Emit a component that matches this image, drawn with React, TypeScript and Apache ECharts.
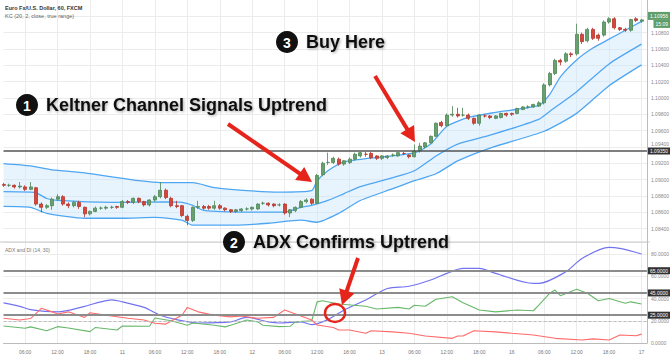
import React, { useEffect, useRef } from 'react';
import * as echarts from 'echarts';

// ---------- categories (hourly candles, weekend skipped) ----------
const tradingDays = ['10', '11', '12', '13', '16'];
const lastDay = '17';
const categories: string[] = [];
tradingDays.forEach((d, di) => {
  for (let h = 0; h < 24; h++) {
    if (di === 0 && h < 2) continue;
    categories.push(`${d}|${h}`);
  }
});
categories.push(`${lastDay}|0`, `${lastDay}|1`);

// ---------- candles ----------
const opens = [
  1.0894, 1.0893, 1.0893, 1.0891, 1.0891, 1.0888, 1.0890, 1.0870, 1.0866, 1.0868,
  1.0876, 1.0879, 1.0870, 1.0868, 1.0872, 1.0866, 1.0858, 1.0861, 1.0865, 1.0865,
  1.0866, 1.0867, 1.0866, 1.0873, 1.0872, 1.0877, 1.0873, 1.0869, 1.0875, 1.0879,
  1.0887, 1.0877, 1.0868, 1.0868, 1.0855, 1.0850, 1.0866, 1.0867, 1.0867, 1.0865,
  1.0868, 1.0865, 1.0863, 1.0861, 1.0862, 1.0864, 1.0864, 1.0864, 1.0871, 1.0871,
  1.0870, 1.0869, 1.0870, 1.0859, 1.0862, 1.0866, 1.0873, 1.0876, 1.0871, 1.0906,
  1.0921, 1.0921, 1.0925, 1.0919, 1.0921, 1.0925, 1.0929, 1.0931, 1.0932, 1.0929,
  1.0926, 1.0927, 1.0930, 1.0929, 1.0932, 1.0930, 1.0928, 1.0935, 1.0940, 1.0945,
  1.0953, 1.0970, 1.0966, 1.0979, 1.0980, 1.0979, 1.0979, 1.0975, 1.0969, 1.0978,
  1.0978, 1.0975, 1.0976, 1.0981, 1.0981, 1.0981, 1.0986, 1.0989, 1.0989, 1.0990,
  1.0994, 1.1016, 1.1030, 1.1046, 1.1045, 1.1054, 1.1054, 1.1078, 1.1070, 1.1084,
  1.1077, 1.1077, 1.1093, 1.1097, 1.1086, 1.1084, 1.1083, 1.1097, 1.1094,
];
const closes = [
  1.0893, 1.0893, 1.0891, 1.0892, 1.0888, 1.0891, 1.0870, 1.0866, 1.0868, 1.0876,
  1.0879, 1.0870, 1.0868, 1.0872, 1.0867, 1.0858, 1.0861, 1.0865, 1.0865, 1.0866,
  1.0866, 1.0866, 1.0873, 1.0872, 1.0877, 1.0873, 1.0869, 1.0875, 1.0879, 1.0887,
  1.0878, 1.0868, 1.0867, 1.0856, 1.0850, 1.0866, 1.0867, 1.0865, 1.0865, 1.0868,
  1.0865, 1.0863, 1.0861, 1.0863, 1.0864, 1.0864, 1.0866, 1.0870, 1.0871, 1.0869,
  1.0868, 1.0869, 1.0859, 1.0863, 1.0866, 1.0873, 1.0875, 1.0871, 1.0905, 1.0920,
  1.0921, 1.0926, 1.0919, 1.0923, 1.0925, 1.0931, 1.0933, 1.0931, 1.0927, 1.0926,
  1.0929, 1.0929, 1.0930, 1.0933, 1.0932, 1.0928, 1.0935, 1.0941, 1.0945, 1.0953,
  1.0969, 1.0966, 1.0979, 1.0980, 1.0978, 1.0979, 1.0975, 1.0969, 1.0979, 1.0978,
  1.0976, 1.0978, 1.0981, 1.0979, 1.0980, 1.0987, 1.0989, 1.0989, 1.0992, 1.0994,
  1.1016, 1.1030, 1.1046, 1.1044, 1.1054, 1.1053, 1.1078, 1.1069, 1.1084, 1.1073,
  1.1073, 1.1093, 1.1097, 1.1086, 1.1084, 1.1083, 1.1096, 1.1095, 1.10956,
];
const lows = [
  1.0891, 1.0891, 1.0889, 1.0889, 1.0886, 1.0887, 1.0868, 1.0860, 1.0864, 1.0863,
  1.0874, 1.0868, 1.0865, 1.0866, 1.0864, 1.0854, 1.0856, 1.0860, 1.0863, 1.0863,
  1.0864, 1.0864, 1.0865, 1.0870, 1.0870, 1.0871, 1.0867, 1.0867, 1.0873, 1.0877,
  1.0876, 1.0866, 1.0865, 1.0854, 1.0844, 1.0848, 1.0864, 1.0863, 1.0863, 1.0863,
  1.0863, 1.0861, 1.0859, 1.0859, 1.0860, 1.0862, 1.0862, 1.0863, 1.0869, 1.0867,
  1.0866, 1.0867, 1.0857, 1.0854, 1.0860, 1.0865, 1.0871, 1.0869, 1.0870, 1.0904,
  1.0918, 1.0919, 1.0917, 1.0917, 1.0919, 1.0923, 1.0927, 1.0928, 1.0925, 1.0924,
  1.0924, 1.0925, 1.0928, 1.0928, 1.0930, 1.0926, 1.0927, 1.0933, 1.0938, 1.0944,
  1.0952, 1.0964, 1.0965, 1.0977, 1.0976, 1.0977, 1.0973, 1.0967, 1.0966, 1.0976,
  1.0974, 1.0974, 1.0975, 1.0977, 1.0978, 1.0980, 1.0985, 1.0987, 1.0988, 1.0989,
  1.0992, 1.1014, 1.1028, 1.1040, 1.1043, 1.1050, 1.1052, 1.1066, 1.1068, 1.1071,
  1.1070, 1.1075, 1.1091, 1.1084, 1.1082, 1.1081, 1.1081, 1.1093, 1.1092,
];
const highs = [
  1.0896, 1.0895, 1.0894, 1.0897, 1.0893, 1.0897, 1.0891, 1.0872, 1.0870, 1.0878,
  1.0882, 1.0881, 1.0872, 1.0874, 1.0874, 1.0867, 1.0862, 1.0867, 1.0867, 1.0868,
  1.0868, 1.0868, 1.0875, 1.0875, 1.0878, 1.0878, 1.0874, 1.0876, 1.0881, 1.0897,
  1.0889, 1.0879, 1.0874, 1.0869, 1.0857, 1.0867, 1.0874, 1.0869, 1.0869, 1.0874,
  1.0870, 1.0866, 1.0864, 1.0864, 1.0865, 1.0866, 1.0867, 1.0871, 1.0873, 1.0872,
  1.0871, 1.0871, 1.0871, 1.0864, 1.0867, 1.0875, 1.0877, 1.0877, 1.0907, 1.0922,
  1.0933, 1.0928, 1.0927, 1.0924, 1.0927, 1.0933, 1.0934, 1.0934, 1.0934, 1.0930,
  1.0930, 1.0930, 1.0932, 1.0934, 1.0934, 1.0931, 1.0943, 1.0945, 1.0946, 1.0954,
  1.0970, 1.0972, 1.0981, 1.0990, 1.0988, 1.0988, 1.0981, 1.0976, 1.0980, 1.0980,
  1.0979, 1.0979, 1.0982, 1.0982, 1.0982, 1.0988, 1.0990, 1.0991, 1.0993, 1.0996,
  1.1018, 1.1032, 1.1048, 1.1048, 1.1056, 1.1056, 1.1091, 1.1080, 1.1086, 1.1086,
  1.1079, 1.1095, 1.1099, 1.1099, 1.1087, 1.1086, 1.1097, 1.1099, 1.1097,
];

// ---------- Keltner channel (candle index, price) ----------
const kcUpper: [number, number][] = [
  [0, 1.09196], [5, 1.09168], [9, 1.0912], [15, 1.09083], [21, 1.09023], [25, 1.08986],
  [29, 1.08962], [35, 1.08962], [39, 1.08902], [45, 1.08865], [51, 1.08847], [57, 1.08865],
  [58, 1.08986], [60, 1.09108], [63, 1.09217], [70, 1.09277], [76, 1.09326], [79, 1.09435],
  [82, 1.09653], [86, 1.09762], [91, 1.09823], [99, 1.09908], [101, 1.10041], [103, 1.10259],
  [106, 1.10465], [109, 1.10611], [112, 1.1072], [115, 1.10829], [118, 1.10938],
];
const kcMiddle: [number, number][] = [
  [0, 1.08853], [5, 1.08847], [6, 1.08841], [8, 1.08768], [10, 1.08744], [20, 1.0872],
  [30, 1.08726], [33, 1.0872], [35, 1.08683], [37, 1.08623], [45, 1.08602], [52, 1.08602],
  [55, 1.08659], [57, 1.08683], [60, 1.08744], [63, 1.08829], [66, 1.08914], [72, 1.09023],
  [76, 1.09108], [80, 1.09289], [84, 1.09435], [90, 1.09544], [99, 1.09738], [101, 1.09835],
  [106, 1.10077], [112, 1.10417], [118, 1.10659],
];
const kcLower: [number, number][] = [
  [0, 1.08671], [5, 1.08659], [8, 1.08586], [15, 1.08526], [22, 1.08526], [28, 1.08538],
  [33, 1.08502], [35, 1.08441], [43, 1.08441], [49, 1.08465], [55, 1.08502], [58, 1.08477],
  [62, 1.08586], [66, 1.08744], [72, 1.08889], [76, 1.08986], [80, 1.09071], [84, 1.09229],
  [90, 1.09386], [100, 1.09592], [106, 1.09811], [112, 1.1015], [118, 1.10405],
];

// ---------- ADX and DI (candle index, value) ----------
const adx: [number, number][] = [
  [0, 36], [3, 33], [5, 30], [10, 28], [15, 33], [18, 37], [20, 38.7], [22, 37], [26, 32],
  [29, 25], [32, 21], [36, 18], [42, 19], [45, 23], [49, 19], [51, 18], [55, 19], [57, 16.5],
  [60, 21], [63, 29.7], [67, 38.7], [71, 49], [75, 51], [79, 56.6], [82, 62.6], [85, 67],
  [88, 67], [91, 62.6], [98, 53.6], [99, 53.6], [104, 64], [107, 76], [112, 86], [114, 85],
  [118, 80],
];
const plusDi: [number, number][] = [
  [0, 15.3], [4, 13.2], [5, 14.5], [8, 11], [10, 14.7], [12, 13.5], [16, 10.2], [17, 14],
  [21, 11.7], [22, 15.3], [27, 15], [28, 22.5], [31, 20], [34, 16], [35, 18], [39, 16],
  [41, 14.5], [42, 16], [45, 20.7], [47, 19], [48, 16], [51, 14.7], [53, 15], [54, 19],
  [57, 20], [58, 37], [59, 38], [62, 35], [67, 33], [69, 30.6], [73, 32], [75, 30.6],
  [76, 34], [78, 33], [80, 39.3], [83, 41.6], [85, 36.2], [88, 29.7], [91, 28], [95, 29.7],
  [98, 29], [99, 34], [101, 44.7], [102, 47.6], [103, 42.5], [106, 48.3], [108, 44.7],
  [110, 38], [112, 40], [115, 35.7], [116, 37], [118, 35],
];
const minusDi: [number, number][] = [
  [0, 22.2], [3, 20.7], [5, 22], [7, 31.2], [9, 28], [10, 26], [12, 28], [15, 23], [16, 27.2],
  [19, 25], [23, 22.2], [26, 20.7], [28, 17.7], [30, 17], [33, 25], [34, 32], [36, 28],
  [39, 25], [42, 23.5], [44, 24.3], [47, 22.2], [50, 23], [52, 29.7], [55, 24.3], [57, 20.7],
  [58, 16.2], [61, 14], [62, 11.7], [64, 11.7], [67, 8.7], [68, 11], [72, 10], [75, 8.7],
  [78, 6.3], [83, 4.2], [84, 6.3], [85, 6.3], [87, 11], [91, 10], [94, 8.7], [98, 7.2],
  [102, 4.2], [107, 2.7], [109, 3.7], [112, 2.7], [114, 7.2], [117, 6.5], [118, 8],
];

// ---------- reference levels ----------
const priceLevel = 1.0935;
const adxLevels = [65, 45, 25];
const adxDashed = 20;
const countdown = '15:09';

const RED = '#e5251c';
const FONT = '"Liberation Sans", Arial, sans-serif';

function arrow(sx: number, sy: number, tx: number, ty: number) {
  const dx = tx - sx, dy = ty - sy;
  const L = Math.hypot(dx, dy);
  const ux = dx / L, uy = dy / L;
  const nx = -uy, ny = ux;
  const hl = 15, hw = 8;
  const bx = tx - ux * hl, by = ty - uy * hl;
  return [
    { type: 'line', z: 100, shape: { x1: sx, y1: sy, x2: bx + ux * 2, y2: by + uy * 2 }, style: { stroke: RED, lineWidth: 4 } },
    { type: 'polygon', z: 100, shape: { points: [[tx, ty], [bx + nx * hw, by + ny * hw], [bx - nx * hw, by - ny * hw]] }, style: { fill: RED } },
  ];
}

function badge(cx: number, cy: number, n: string, label: string) {
  return [
    { type: 'circle', z: 100, shape: { cx, cy, r: 11 }, style: { fill: '#111' } },
    { type: 'text', z: 101, x: cx, y: cy + 0.5, style: { text: n, fill: '#fff', fontSize: 14, fontWeight: 'bold', fontFamily: FONT, align: 'center', verticalAlign: 'middle' } },
    {
      type: 'text', z: 101, x: cx + 19, y: cy,
      style: {
        text: label, fill: '#111', fontSize: 18, fontWeight: 'bold', fontFamily: FONT,
        align: 'left', verticalAlign: 'middle',
        textShadowColor: 'rgba(0,0,0,0.35)', textShadowBlur: 3, textShadowOffsetX: 1, textShadowOffsetY: 1,
      },
    },
  ];
}

const isMark = (index: number) => {
  const c = categories[index];
  if (!c) return false;
  return +c.split('|')[1] % 6 === 0;
};
const fmtCat = (v: string) => {
  const [d, h] = v.split('|');
  return +h === 0 ? d : `${h.padStart(2, '0')}:00`;
};

export default function App() {
  const ref = useRef<HTMLDivElement>(null);
  useEffect(() => {
    document.body.style.margin = '0';
    if (!ref.current) return;
    const chart = echarts.init(ref.current, undefined, { renderer: 'svg' });
    const candleData = opens.map((o, i) => [o, closes[i], lows[i], highs[i]]);
    const lastClose = closes[closes.length - 1];
    const gridLine = { show: true, interval: (i: number) => isMark(i), lineStyle: { color: '#ececec', width: 1 } };
    const axisLabelBase = { fontSize: 5, color: '#888', fontFamily: FONT, margin: 4 };
    const tagLabel = (text: string, bg: string) => ({
      show: true, position: 'end', distance: 1, formatter: text,
      backgroundColor: bg, color: '#fff', fontSize: 5, fontFamily: FONT, padding: [1, 2],
    });

    const option: any = {
      animation: false,
      backgroundColor: '#fff',
      grid: [
        { left: 3.5, right: 22.4, top: -2.625, height: 247.5 },
        { left: 3.5, right: 22.4, top: 242, height: 101 },
      ],
      xAxis: [
        {
          type: 'category', gridIndex: 0, data: categories, boundaryGap: false,
          axisLabel: { show: false }, axisTick: { show: false }, axisLine: { show: false },
          splitLine: gridLine,
        },
        {
          type: 'category', gridIndex: 1, data: categories, boundaryGap: false, offset: 3,
          axisLabel: { ...axisLabelBase, color: '#777', interval: (i: number) => isMark(i), formatter: fmtCat, margin: 3 },
          axisTick: { show: false }, axisLine: { show: true, lineStyle: { color: '#bbb' } },
          splitLine: gridLine,
        },
      ],
      yAxis: [
        {
          type: 'value', gridIndex: 0, position: 'right', min: 1.082, max: 1.112, interval: 0.002,
          axisLine: { show: true, lineStyle: { color: '#bbb' } }, axisTick: { show: false },
          axisLabel: {
            ...axisLabelBase,
            formatter: (v: number) => {
              if (!(v > 1.0839 && v < 1.1099)) return '';
              const s = v.toFixed(5);
              // the label just above the 1.09350 tag is nudged up, as in the reference
              return Math.abs(v - 1.094) < 1e-6 ? `{up|${s}}` : s;
            },
            rich: { up: { fontSize: 5, color: '#888', fontFamily: FONT, padding: [0, 0, 5, 0] } },
          },
          splitLine: { show: true, showMinLine: false, showMaxLine: false, lineStyle: { color: '#ececec' } },
        },
        {
          type: 'value', gridIndex: 1, position: 'right', min: 0, max: 90.8, interval: 20,
          axisLine: { show: true, lineStyle: { color: '#bbb' } }, axisTick: { show: false },
          axisLabel: {
            ...axisLabelBase,
            formatter: (v: number) => (Math.abs(v / 20 - Math.round(v / 20)) < 1e-6 ? v.toFixed(4) : ''),
          },
          splitLine: { show: true, lineStyle: { color: '#ececec' } },
        },
      ],
      series: [
        {
          type: 'custom', xAxisIndex: 0, yAxisIndex: 0, silent: true, z: 1,
          data: [[kcLower[0][0], kcLower[0][1]]],
          encode: { x: 0, y: 1 },
          renderItem: (params: any, api: any) => {
            const pts = kcUpper.map(([i, v]) => api.coord([i, v]))
              .concat(kcLower.slice().reverse().map(([i, v]) => api.coord([i, v])));
            return { type: 'polygon', shape: { points: pts, smooth: 0 }, style: { fill: 'rgba(205,230,250,0.45)' } };
          },
        },
        {
          type: 'line', xAxisIndex: 0, yAxisIndex: 0, data: kcUpper, symbol: 'none', smooth: 0.2, z: 2,
          lineStyle: { color: '#4ea6f2', width: 1.3 }, silent: true,
        },
        {
          type: 'line', xAxisIndex: 0, yAxisIndex: 0, data: kcMiddle, symbol: 'none', smooth: 0.2, z: 2,
          lineStyle: { color: '#4ea6f2', width: 1.3 }, silent: true,
          markLine: {
            silent: true, symbol: 'none', animation: false, precision: 5,
            data: [
              {
                yAxis: priceLevel,
                lineStyle: { color: '#555', width: 1.6, type: 'solid' },
                label: tagLabel(priceLevel.toFixed(5), '#333'),
              },
              {
                yAxis: lastClose,
                lineStyle: { color: 'rgba(0,0,0,0)', width: 0 },
                label: {
                  show: true, position: 'end', distance: 1,
                  formatter: `{a|${lastClose.toFixed(5)}}\n{b|${countdown}}`,
                  rich: {
                    a: { backgroundColor: '#5f9e68', color: '#fff', fontSize: 5, fontFamily: FONT, padding: [1.5, 2], lineHeight: 8 },
                    b: { backgroundColor: '#5f9e68', color: '#fff', fontSize: 5, fontFamily: FONT, padding: [1.5, 2], lineHeight: 8, align: 'right' },
                  },
                },
              },
            ],
          },
        },
        {
          type: 'line', xAxisIndex: 0, yAxisIndex: 0, data: kcLower, symbol: 'none', smooth: 0.2, z: 2,
          lineStyle: { color: '#4ea6f2', width: 1.3 }, silent: true,
        },
        {
          type: 'candlestick', xAxisIndex: 0, yAxisIndex: 0, data: candleData, barWidth: 3.5, clip: false, z: 3,
          itemStyle: { color: '#68a070', borderColor: '#4c8655', color0: '#d5473b', borderColor0: '#b2362b', borderWidth: 0.8 },
        },
        {
          type: 'line', xAxisIndex: 1, yAxisIndex: 1, data: adx, symbol: 'none', smooth: 0.3, z: 3,
          lineStyle: { color: '#7373f2', width: 1.2 },
          markLine: {
            silent: true, symbol: 'none', animation: false, precision: 4,
            data: [
              ...adxLevels.map((v) => ({
                yAxis: v,
                lineStyle: { color: '#8c8c8c', width: 2, type: 'solid' },
                label: tagLabel(v.toFixed(4), '#333'),
              })),
              {
                yAxis: adxDashed,
                lineStyle: { color: '#bdbdbd', width: 1, type: [3, 2] },
                label: { show: false },
              },
            ],
          },
        },
        {
          type: 'line', xAxisIndex: 1, yAxisIndex: 1, data: plusDi, symbol: 'none', z: 3,
          lineStyle: { color: '#68b86a', width: 1.1 },
        },
        {
          type: 'line', xAxisIndex: 1, yAxisIndex: 1, data: minusDi, symbol: 'none', z: 3,
          lineStyle: { color: '#ff6b6b', width: 1.1 },
        },
      ],
      graphic: [
        { type: 'line', z: 50, shape: { x1: 0, y1: 242, x2: 649.6, y2: 242 }, style: { stroke: '#c8c8c8', lineWidth: 1 } },
        { type: 'text', z: 50, x: 5, y: 8, style: { text: 'Euro Fx/U.S. Dollar, 60, FXCM', fill: '#333', fontSize: 5.5, fontWeight: 'bold', fontFamily: FONT, verticalAlign: 'middle' } },
        { type: 'text', z: 50, x: 5, y: 16, style: { text: 'KC (20, 2, close, true range)', fill: '#666', fontSize: 5.5, fontFamily: FONT, verticalAlign: 'middle' } },
        { type: 'text', z: 50, x: 5, y: 249.5, style: { text: 'ADX and DI (14, 30)', fill: '#777', fontSize: 5, fontFamily: FONT, verticalAlign: 'middle' } },
        ...arrow(228, 124, 312, 182),
        ...arrow(375, 76, 415, 142),
        ...arrow(358, 258, 342, 305),
        { type: 'ellipse', z: 100, shape: { cx: 335, cy: 313, rx: 10, ry: 9 }, style: { fill: 'none', stroke: RED, lineWidth: 2.5 } },
        ...badge(27, 105, '1', 'Keltner Channel Signals Uptrend'),
        ...badge(287, 42, '3', 'Buy Here'),
        ...badge(234, 242, '2', 'ADX Confirms Uptrend'),
      ],
    };
    chart.setOption(option);
    return () => chart.dispose();
  }, []);
  return <div ref={ref} style={{ width: 672, height: 357 }} />;
}
